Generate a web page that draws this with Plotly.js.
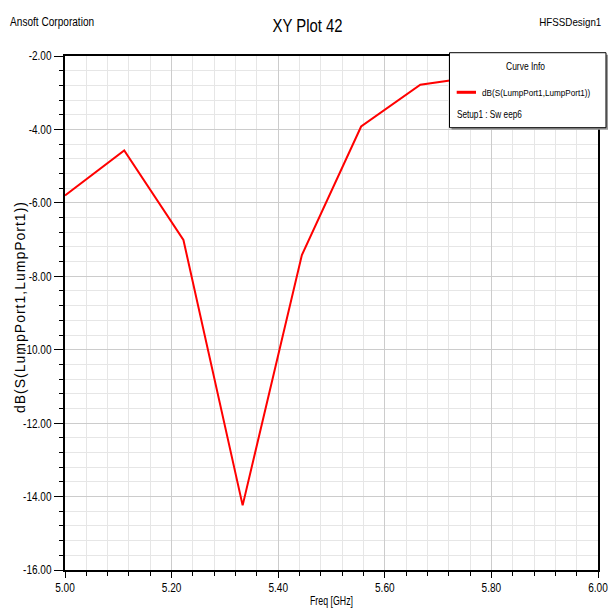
<!DOCTYPE html>
<html>
<head>
<meta charset="utf-8">
<script src="https://cdn.plot.ly/plotly-3.0.1.min.js"></script>
<style>html,body{margin:0;padding:0;background:#fff;}#chart{width:608px;height:610px;}</style>
</head>
<body>
<div id="chart"></div>
<script>
// Data
var freqGHz = [5.0, 5.1111, 5.2222, 5.3333, 5.4444, 5.5556, 5.6667, 5.7778, 5.8889, 6.0];
var dbS11 = [-5.80, -4.57, -7.01, -14.24, -7.42, -3.92, -2.78, -2.55, -2.55, -2.85];
var seriesName = "dB(S(LumpPort1,LumpPort1))";
var setupName = "Setup1 : Sw eep6";
var xTickVals = [5.0, 5.2, 5.4, 5.6, 5.8, 6.0];
var xTickText = ["5.00", "5.20", "5.40", "5.60", "5.80", "6.00"];
var yTickVals = [-2, -4, -6, -8, -10, -12, -14, -16];
var yTickText = ["-2.00", "-4.00", "-6.00", "-8.00", "-10.00", "-12.00", "-14.00", "-16.00"];

var FONT = "'Liberation Sans', Arial, sans-serif";

var trace = {
  x: freqGHz, y: dbS11, type: 'scatter', mode: 'lines', name: seriesName,
  line: {color: '#ff0000', width: 2}, showlegend: false, hoverinfo: 'x+y'
};

function ann(text, x, y, size, extra) {
  var a = {text: text, xref: 'paper', yref: 'paper', x: x, y: y, xanchor: 'center', yanchor: 'middle',
           showarrow: false, font: {family: FONT, size: size, color: '#000'}};
  for (var k in extra) a[k] = extra[k];
  return a;
}

var layout = {
  width: 608, height: 610,
  margin: {l: 65, r: 10, t: 56, b: 40, pad: 0},
  paper_bgcolor: '#ffffff', plot_bgcolor: '#ffffff',
  font: {family: FONT, color: '#000000', size: 12},
  showlegend: false,
  xaxis: {
    range: [5, 6], tickmode: 'array', tickvals: xTickVals, ticktext: xTickText,
    ticks: 'outside', ticklen: 6, tickwidth: 1, tickcolor: '#000', ticklabeloverflow: 'allow',
    showline: true, linecolor: '#000', linewidth: 2, mirror: true,
    showgrid: true, gridcolor: '#cccccc', gridwidth: 1, zeroline: false,
    tickfont: {family: FONT, size: 12, color: '#000'},
    minor: {tick0: 5, dtick: 0.04, ticks: 'outside', ticklen: 4, tickcolor: '#000', showgrid: true, gridcolor: '#e6e6e6', gridwidth: 1},
    title: {text: 'Freq [GHz]', font: {family: FONT, size: 12.5, color: '#000'}, standoff: 2}
  },
  yaxis: {
    range: [-16, -2], tickmode: 'array', tickvals: yTickVals, ticktext: yTickText,
    ticks: 'outside', ticklen: 9, tickwidth: 1, tickcolor: '#000',
    showline: true, linecolor: '#000', linewidth: 2, mirror: true,
    showgrid: true, gridcolor: '#cccccc', gridwidth: 1, zeroline: false,
    tickfont: {family: FONT, size: 12.5, color: '#000'},
    minor: {tick0: -16, dtick: 0.4, ticks: 'outside', ticklen: 4, tickcolor: '#000', showgrid: true, gridcolor: '#e6e6e6', gridwidth: 1}
  },
  shapes: [
    {type: 'rect', xref: 'paper', yref: 'paper', x0: 0.7252, x1: 1.0188, y0: 0.8566, y1: 1.0025,
     fillcolor: '#9a9a9a', line: {width: 0}, layer: 'above'},
    {type: 'rect', xref: 'paper', yref: 'paper', x0: 0.7214, x1: 1.0150, y0: 0.8605, y1: 1.0064,
     fillcolor: '#ffffff', line: {color: '#000', width: 1}, layer: 'above'},
    {type: 'line', xref: 'paper', yref: 'paper', x0: 0.7349, x1: 0.7711, y0: 0.9294, y1: 0.9294,
     line: {color: '#ff0000', width: 3}, layer: 'above'}
  ],
  annotations: [
    ann('Ansoft Corporation', -0.0244, 1.0661, 12.5),
    ann('XY Plot 42', 0.4559, 1.0584, 18.5),
    ann('HFSSDesign1', 0.9493, 1.0661, 10.5),
    ann('Curve Info', 0.8644, 0.9805, 11.5),
    ann(seriesName, 0.8837, 0.9294, 9.5),
    ann(setupName, 0.7955, 0.8872, 11.5),
    ann(seriesName, -0.0863, 0.5107, 14, {textangle: -90})
  ]
};

// Target drawn widths (px) to mimic the condensed Ansoft font
var squeezeWidths = {
  'Ansoft Corporation': 84, 'XY Plot 42': 70, 'HFSSDesign1': 62,
  'Curve Info': 39, 'Setup1 : Sw eep6': 65, 'Freq [GHz]': 43
};

Plotly.newPlot('chart', [trace], layout, {displayModeBar: false, staticPlot: true}).then(function (gd) {
  function fit(el, w, mode) {
    el.setAttribute('textLength', w);
    el.setAttribute('lengthAdjust', mode || 'spacingAndGlyphs');
  }
  gd.querySelectorAll('.xtick text').forEach(function (t) {
    fit(t, (t.getComputedTextLength() * 0.84).toFixed(1));
  });
  gd.querySelectorAll('.ytick text').forEach(function (t) {
    fit(t, (t.getComputedTextLength() * 0.8).toFixed(1));
  });
  gd.querySelectorAll('.xtitle').forEach(function (t) { fit(t, squeezeWidths['Freq [GHz]']); });
  gd.querySelectorAll('.annotation-text').forEach(function (t) {
    var s = t.textContent;
    var size = parseFloat(t.style.fontSize || window.getComputedStyle(t).fontSize);
    if (squeezeWidths[s]) fit(t, squeezeWidths[s]);
    else if (s === seriesName) {
      if (size > 12.5) fit(t, 211, 'spacing');   // rotated axis label: spaced letters
      else fit(t, 108);                           // curve-info entry: condensed
    }
  });
});
</script>
</body>
</html>
